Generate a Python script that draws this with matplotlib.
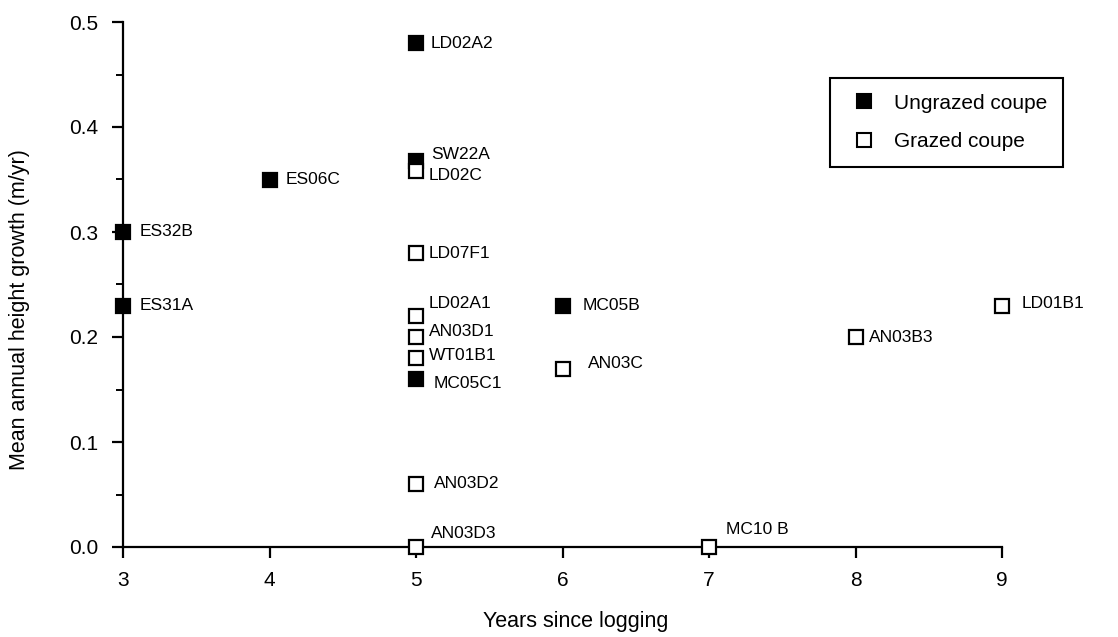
import matplotlib
matplotlib.use("Agg")
import matplotlib.pyplot as plt
from matplotlib.lines import Line2D
from matplotlib.ticker import MultipleLocator

plt.rcParams['font.family'] = ['Liberation Sans', 'DejaVu Sans']

# ---- data ----
names = ["ES32B", "ES31A", "ES06C", "LD02A2", "SW22A", "LD02C", "LD07F1",
         "LD02A1", "AN03D1", "WT01B1", "MC05C1", "AN03D2", "AN03D3",
         "MC05B", "AN03C", "MC10 B", "AN03B3", "LD01B1"]
years = [3, 3, 4, 5, 5, 5, 5, 5, 5, 5, 5, 5, 5, 6, 6, 7, 8, 9]
growth = [0.30, 0.23, 0.35, 0.48, 0.368, 0.358, 0.28, 0.22, 0.20, 0.18,
          0.16, 0.06, 0.0, 0.23, 0.17, 0.0, 0.20, 0.23]
grazed = [False, False, False, False, False, True, True, True, True, True,
          False, True, True, False, True, True, True, True]
legend_labels = ["Ungrazed coupe", "Grazed coupe"]
xticks = [3, 4, 5, 6, 7, 8, 9]
yticks = [0.0, 0.1, 0.2, 0.3, 0.4, 0.5]

# label offsets in pixels (dx, dy)
label_offsets = {
    "ES32B": (17, 0), "ES31A": (17, 0), "ES06C": (16, 0), "LD02A2": (15, 0),
    "SW22A": (15, 6), "LD02C": (13, -4), "LD07F1": (13, 0), "LD02A1": (13, 13),
    "AN03D1": (13, 5), "WT01B1": (13, 2), "MC05C1": (18, -5), "AN03D2": (18, 0),
    "AN03D3": (15, 14), "MC05B": (20, 0), "AN03C": (25, 5), "MC10 B": (17, 17),
    "AN03B3": (13, 0), "LD01B1": (20, 2),
}

fig = plt.figure(figsize=(11.18, 6.37), dpi=100)
ax = fig.add_axes([123/1118, 1 - 547/637, (1002-123)/1118, (547-22)/637])

# ungrazed first, grazed on top
for g, fc, z in [(False, 'black', 3), (True, 'white', 4)]:
    xs = [x for x, gg in zip(years, grazed) if gg == g]
    ys = [y for y, gg in zip(growth, grazed) if gg == g]
    ax.plot(xs, ys, linestyle='none', marker='s', markersize=10.5,
            markerfacecolor=fc, markeredgecolor='black', markeredgewidth=1.6,
            clip_on=False, zorder=z)

for n, x, y in zip(names, years, growth):
    dx, dy = label_offsets[n]
    ax.annotate(n, (x, y), xytext=(dx, dy), textcoords='offset pixels',
                ha='left', va='center', fontsize=12.5, annotation_clip=False)

ax.set_xlim(3, 9)
ax.set_ylim(0, 0.5)
ax.set_xticks(xticks)
ax.set_yticks(yticks)
ax.set_xticklabels([str(t) for t in xticks])
ax.set_yticklabels([f"{t:.1f}" for t in yticks])
ax.yaxis.set_minor_locator(MultipleLocator(0.05))
for s in ['top', 'right']:
    ax.spines[s].set_visible(False)
for s in ['left', 'bottom']:
    ax.spines[s].set_linewidth(1.6)
ax.tick_params(axis='both', which='major', direction='out', length=8,
               width=1.6, labelsize=15)
ax.tick_params(axis='x', which='major', pad=9)
ax.tick_params(axis='y', which='major', pad=10)
ax.tick_params(axis='y', which='minor', direction='out', length=5, width=1.4)

fig.text((123+1002)/2/1118 + 0.012, 1 - 622/637, "Years since logging",
         ha='center', va='center', fontsize=15.5)
fig.text(20/1118, 1 - 310/637, "Mean annual height growth (m/yr)",
         ha='center', va='center', rotation=90, fontsize=15.5)

handles = [Line2D([], [], linestyle='none', marker='s', markersize=10,
                  markerfacecolor='black', markeredgecolor='black', markeredgewidth=1.5),
           Line2D([], [], linestyle='none', marker='s', markersize=10,
                  markerfacecolor='white', markeredgecolor='black', markeredgewidth=1.5)]
leg = ax.legend(handles, legend_labels, loc='upper left',
                bbox_to_anchor=(830/1118, 1 - 78/637 - 0.01, (1063-830)/1118, 0.01),
                bbox_transform=fig.transFigure, mode='expand',
                fontsize=15, frameon=True, fancybox=False, framealpha=1,
                edgecolor='black', borderpad=0.75, labelspacing=0.95,
                handlelength=1.8, handletextpad=0.5, borderaxespad=0)
leg.get_frame().set_linewidth(1.5)

fig.savefig("out.png", dpi=100)
